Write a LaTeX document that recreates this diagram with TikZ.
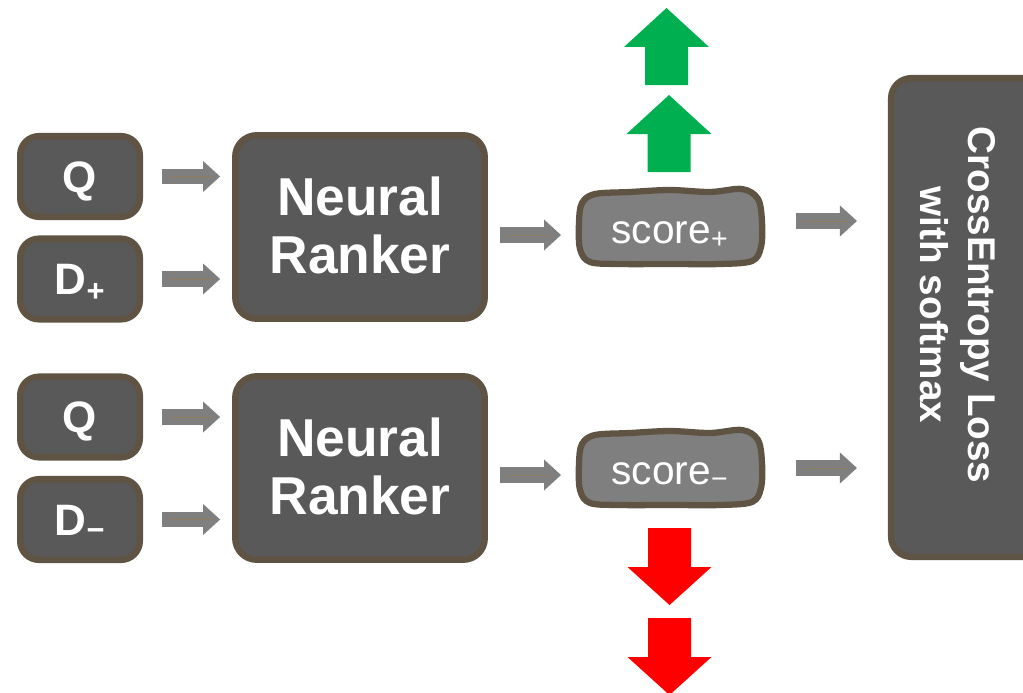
\documentclass[tikz,border=0pt]{standalone}
\usepackage{fontspec}
\setmainfont{Liberation Sans}
\usetikzlibrary{arrows.meta,calc,backgrounds}

\definecolor{boxgray}{HTML}{595959}
\definecolor{rim}{HTML}{5F5444}
\definecolor{scorefill}{HTML}{7F7F7F}
\definecolor{flowgray}{HTML}{7F7F7F}
\definecolor{flowtan}{HTML}{8E7A5C}
\definecolor{upgreen}{HTML}{00B050}
\definecolor{downred}{HTML}{FF0000}

% hand-drawn outline of a score box, relative to its centre (units: px)
\newcommand\scoreoutline{plot[smooth cycle, tension=0.55] coordinates {(-91,-5) (-88,-24) (-75,-33) (-40,-35) (0,-37) (40,-35) (72,-38) (88,-28) (92,-5) (91,20) (82,34) (50,37) (0,37) (-50,37) (-80,35) (-90,22)}}

\begin{document}
\begin{tikzpicture}[x=0.75pt,y=-0.75pt,
  box/.style={draw=rim, fill=boxgray, line width=4.9pt, rounded corners=14pt,
    text=white, inner sep=0pt, align=center,
    font=\bfseries\fontsize{30}{36}\selectfont},
  inbox/.style={box, minimum width=89.6pt, minimum height=60.4pt,
    text height=23.5pt, text depth=0pt, font=\bfseries\fontsize{33}{38}\selectfont},
  ranker/.style={box, minimum width=187pt, minimum height=137.5pt,
    rounded corners=16pt, text depth=2.5pt, font=\bfseries\fontsize{40}{43.5}\selectfont},
  score/.style={minimum width=141pt, minimum height=58.5pt, inner sep=0pt,
    outer sep=0pt, text=white, text height=24pt, text depth=0pt,
    font=\fontsize{30.5}{36}\selectfont},
  scorerim/.style={draw=rim, fill=scorefill, line width=4.7pt},
  flow/.style={draw=flowgray, line width=11.6pt,
    -{Triangle[length=12.75pt,width=23.25pt,line width=0pt]}},
  flowline/.style={draw=flowtan, line width=0.6pt},
  pics/uparrow/.style={code={\fill[upgreen] (0,0) -- (42.5,39) -- (21.5,39)
    -- (21.5,77) -- (-21.5,77) -- (-21.5,39) -- (-42.5,39) -- cycle;}},
  pics/downarrow/.style={code={\fill[downred] (-21.5,0) -- (21.5,0) -- (21.5,39)
    -- (42,39) -- (0,77) -- (-42,39) -- (-21.5,39) -- cycle;}},
]
\useasboundingbox (0,0) rectangle (1023,692);
\clip (0,0) rectangle (1023,692);

% inputs
\node[inbox] (q1) at (80,176.5) {Q};
\node[inbox] (d1) at (80,279) {D\textsubscript{+}};
\node[inbox] (q2) at (80,417) {Q};
\node[inbox] (d2) at (80,519.5) {D\textsubscript{−}};

% rankers
\node[ranker] (nr1) at (360,227) {Neural\\Ranker};
\node[ranker] (nr2) at (360,468) {Neural\\Ranker};

% scores
\node[score] (sp) at (670,227) {score\textsubscript{+}};
\node[score] (sm) at (670,468) {score\textsubscript{−}};
\begin{scope}[on background layer]
  \draw[scorerim, shift={(sp.center)}] \scoreoutline;
  \draw[scorerim, shift={(sm.center)}] \scoreoutline;
\end{scope}

% loss
\node[box, minimum width=126.6pt, minimum height=358.9pt, rounded corners=15pt]
  (ce) at (975.6,317.5) {};
\node[rotate=-90, text=white, align=center,
  font=\bfseries\fontsize{29}{36}\selectfont] (celabel) at (958,305)
  {CrossEntropy Loss\\with softmax};

% input -> ranker
\foreach \a/\b in {q1/nr1, d1/nr1, q2/nr2, d2/nr2}{
  \draw[flow, shorten <=13.9pt, shorten >=9pt] (\a.east) -- (\a.east -| \b.west);
  \draw[flowline, shorten <=19.9pt, shorten >=15pt] (\a.east) -- (\a.east -| \b.west);
}

% ranker -> score
\coordinate (r1) at ([yshift=-6pt]nr1.east);
\coordinate (r2) at ([yshift=-5.25pt]nr2.east);
\draw[flow, shorten <=9pt, shorten >=11.25pt] (r1) -- (r1 -| sp.west);
\draw[flowline, shorten <=15pt, shorten >=18pt] (r1) -- (r1 -| sp.west);
\draw[flow, shorten <=9pt, shorten >=11.25pt] (r2) -- (r2 -| sm.west);
\draw[flowline, shorten <=15pt, shorten >=18pt] (r2) -- (r2 -| sm.west);

% score -> loss
\coordinate (s1) at ([yshift=4.5pt]sp.east);
\coordinate (s2) at (sm.east);
\draw[flow, shorten <=24pt, shorten >=23.25pt] (s1) -- (s1 -| ce.west);
\draw[flowline, shorten <=29.25pt, shorten >=30pt] (s1) -- (s1 -| ce.west);
\draw[flow, shorten <=24pt, shorten >=23.25pt] (s2) -- (s2 -| ce.west);
\draw[flowline, shorten <=29.25pt, shorten >=30pt] (s2) -- (s2 -| ce.west);

% up / down indicators
\pic at (666.5,8) {uparrow};
\pic at (669,95) {uparrow};
\pic at (669.5,528) {downarrow};
\pic at (669.5,618) {downarrow};
\end{tikzpicture}
\end{document}
